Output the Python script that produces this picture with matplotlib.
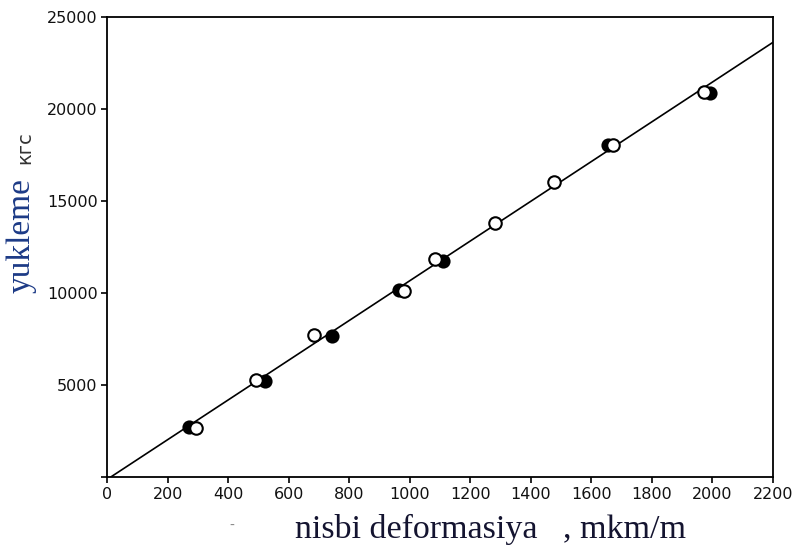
import matplotlib
matplotlib.use("Agg")
import matplotlib.pyplot as plt

# data
open_x = [293, 492, 683, 982, 1082, 1282, 1477, 1671, 1973]
open_y = [2660, 5282, 7725, 10130, 11835, 13822, 16048, 18040, 20901]
filled_x = [271, 522, 742, 965, 1110, 1655, 1992]
filled_y = [2714, 5244, 7671, 10168, 11743, 18060, 20847]
line_x = [10, 2200]
line_y = [0, 23600]
xticks = [0, 200, 400, 600, 800, 1000, 1200, 1400, 1600, 1800, 2000, 2200]
yticks = [0, 5000, 10000, 15000, 20000, 25000]
ytick_labels = ["", "5000", "10000", "15000", "20000", "25000"]

fig = plt.figure(figsize=(7.97, 5.52), dpi=100)
ax = fig.add_axes([0.1346, 0.1353, 0.9695 - 0.1346, 0.9697 - 0.1353])

ax.plot(line_x, line_y, color="black", lw=1.2, zorder=2)
ax.plot(filled_x, filled_y, "o", ms=9, mfc="black", mec="black", mew=1.2, zorder=3, clip_on=False)
ax.plot(open_x, open_y, "o", ms=9, mfc="white", mec="black", mew=1.5, zorder=4, clip_on=False)

ax.set_xlim(0, 2200)
ax.set_ylim(0, 25000)
ax.set_xticks(xticks)
ax.set_xticklabels([str(v) for v in xticks])
ax.set_yticks(yticks)
ax.set_yticklabels(ytick_labels)
for s in ax.spines.values():
    s.set_linewidth(1.3)
ax.tick_params(direction="out", length=4, width=1.2, pad=3,
               labelsize=11.5, top=False, right=False)
for lab in ax.get_xticklabels() + ax.get_yticklabels():
    lab.set_fontfamily("DejaVu Sans")
    lab.set_color("#111111")

fig.text(0.615, 0.026, "nisbi deformasiya   , mkm/m", ha="center", va="baseline",
         fontsize=24.5, family="Liberation Serif", color="#141430")
fig.text(0.291, 0.035, "-", ha="center", va="bottom", fontsize=10,
         family="DejaVu Sans", color="#888888")
fig.text(0.027, 0.574, "yukleme", rotation=90, ha="center", va="center",
         fontsize=24, family="Liberation Serif", color="#1c3a86")
fig.text(0.031, 0.732, "кгс", rotation=90, ha="center", va="center",
         fontsize=14, family="DejaVu Sans", color="#333333")

fig.savefig("out.png", dpi=100)
